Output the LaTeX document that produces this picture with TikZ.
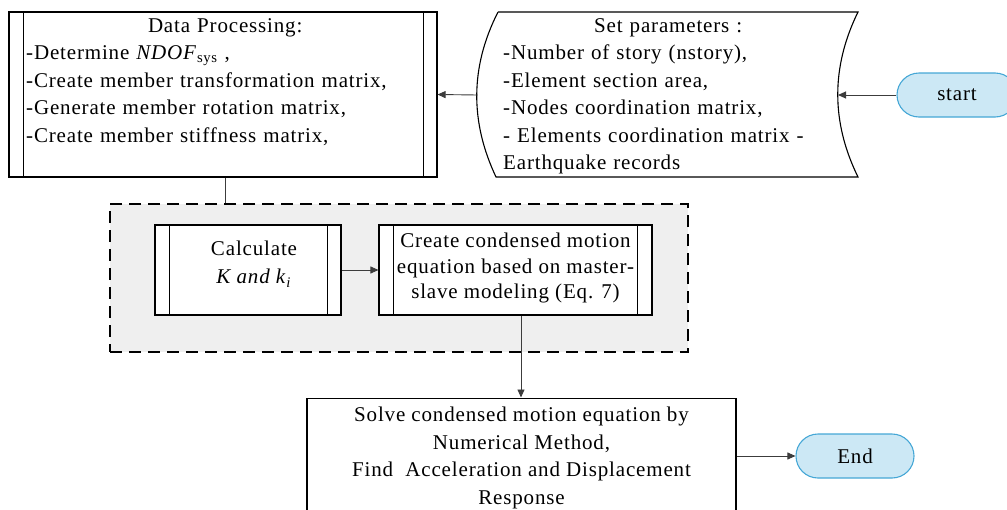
\documentclass[tikz,border=0pt]{standalone}
\usepackage{fontspec}
\setmainfont{Liberation Serif}[LetterSpace=4]
\usetikzlibrary{arrows.meta}
\definecolor{termfill}{HTML}{CCE8F5}
\definecolor{termdraw}{HTML}{45A7D6}
\definecolor{grayfill}{HTML}{EFEFEF}
\definecolor{conn}{HTML}{3C3C3C}
\tikzset{
  box/.style={draw=black, line width=1.1pt, fill=white, inner sep=0pt},
  term/.style={draw=termdraw, fill=termfill, line width=1.1pt, rounded corners=22pt, inner sep=0pt, minimum height=44pt},
  txt/.style={inner sep=0pt, font=\fontsize{21}{27.5}\selectfont},
  conline/.style={draw=conn, line width=0.9pt},
  arr/.style={conline, -{Triangle[length=8pt,width=7pt]}},
}
\begin{document}
\begin{tikzpicture}[x=1pt,y=-1pt]
\useasboundingbox (0,0) rectangle (1007,509);
% dashed group
\node[draw=black, line width=1.4pt, dash pattern=on 12pt off 7pt, fill=grayfill, minimum width=578pt, minimum height=148pt, inner sep=0pt] (grp) at (399,278) {};
% Data processing box
\node[box, minimum width=428pt, minimum height=165pt] (dp) at (223,94.5) {};
\draw[line width=1.1pt] ([xshift=15pt]dp.north west) -- ([xshift=15pt]dp.south west);
\draw[line width=1.1pt] ([xshift=-14pt]dp.north east) -- ([xshift=-14pt]dp.south east);
\node[txt, anchor=north west, text width=398pt] (dptext) at (26,18) {%
  \centering Data Processing:\par\raggedright
  -Determine \textit{NDOF}\textsubscript{sys} ,\par
  -Create member transformation matrix,\par
  -Generate member rotation matrix,\par
  -Create member stiffness matrix,\par};
% Set parameters shape
\draw[line width=1.1pt, fill=white] (498,12) -- (858,12)
  .. controls (831,67) and (831,122) .. (858,177) -- (496,177)
  .. controls (470,122) and (470,67) .. (498,12);
\coordinate (spleft) at (477.5,95);
\coordinate (spright) at (838,95);
\node[txt, anchor=north west, text width=330pt] (sptext) at (503,18) {%
  \centering Set parameters :\par\raggedright
  -Number of story (nstory),\par
  -Element section area,\par
  -Nodes coordination matrix,\par
  - Elements coordination matrix -\par
  Earthquake records\par};
% start
\node[term, minimum width=120pt] (start) at (957,95) {\fontsize{21}{25}\selectfont start};
% inner boxes
\node[box, minimum width=186pt, minimum height=90pt] (calc) at (248,270) {};
\draw[line width=1.1pt] ([xshift=15pt]calc.north west) -- ([xshift=15pt]calc.south west);
\draw[line width=1.1pt] ([xshift=-14pt]calc.north east) -- ([xshift=-14pt]calc.south east);
\node[txt, align=center] (calctext) at (254,264) {Calculate\\[1pt]\textit{K and k}\textsubscript{\textit{i}}};
\node[box, minimum width=273pt, minimum height=90pt] (cond) at (515.5,270) {};
\draw[line width=1.1pt] ([xshift=15pt]cond.north west) -- ([xshift=15pt]cond.south west);
\draw[line width=1.1pt] ([xshift=-15pt]cond.north east) -- ([xshift=-15pt]cond.south east);
\node[txt, align=center, font=\fontsize{21}{25.5}\selectfont] (condtext) at (515.5,268) {Create condensed motion\\equation based on master-\\slave modeling (Eq. 7)};
% solve box
\node[box, minimum width=429pt, minimum height=140pt, anchor=north] (solve) at (521.5,397.5) {};
\node[txt, anchor=north, align=center, font=\fontsize{21}{27.5}\selectfont] (solvetext) at (521.5,407) {Solve condensed motion equation by\\Numerical Method,\\Find\ \ Acceleration and Displacement\\Response};
% End
\node[term, minimum width=118pt] (end) at (855,456) {\fontsize{21}{25}\selectfont End};
% connectors
\draw[arr] (start.west) -- (spright);
\draw[arr] (spleft) -- (dp.east);
\draw[conline] (dp.south -| 225,0) -- (grp.north -| 225,0);
\draw[arr] (calc.east) -- (cond.west);
\draw[arr] (cond.south -| 521,0) -- (solve.north -| 521,0);
\draw[arr] (solve.east |- end.west) -- (end.west);
\end{tikzpicture}
\end{document}
